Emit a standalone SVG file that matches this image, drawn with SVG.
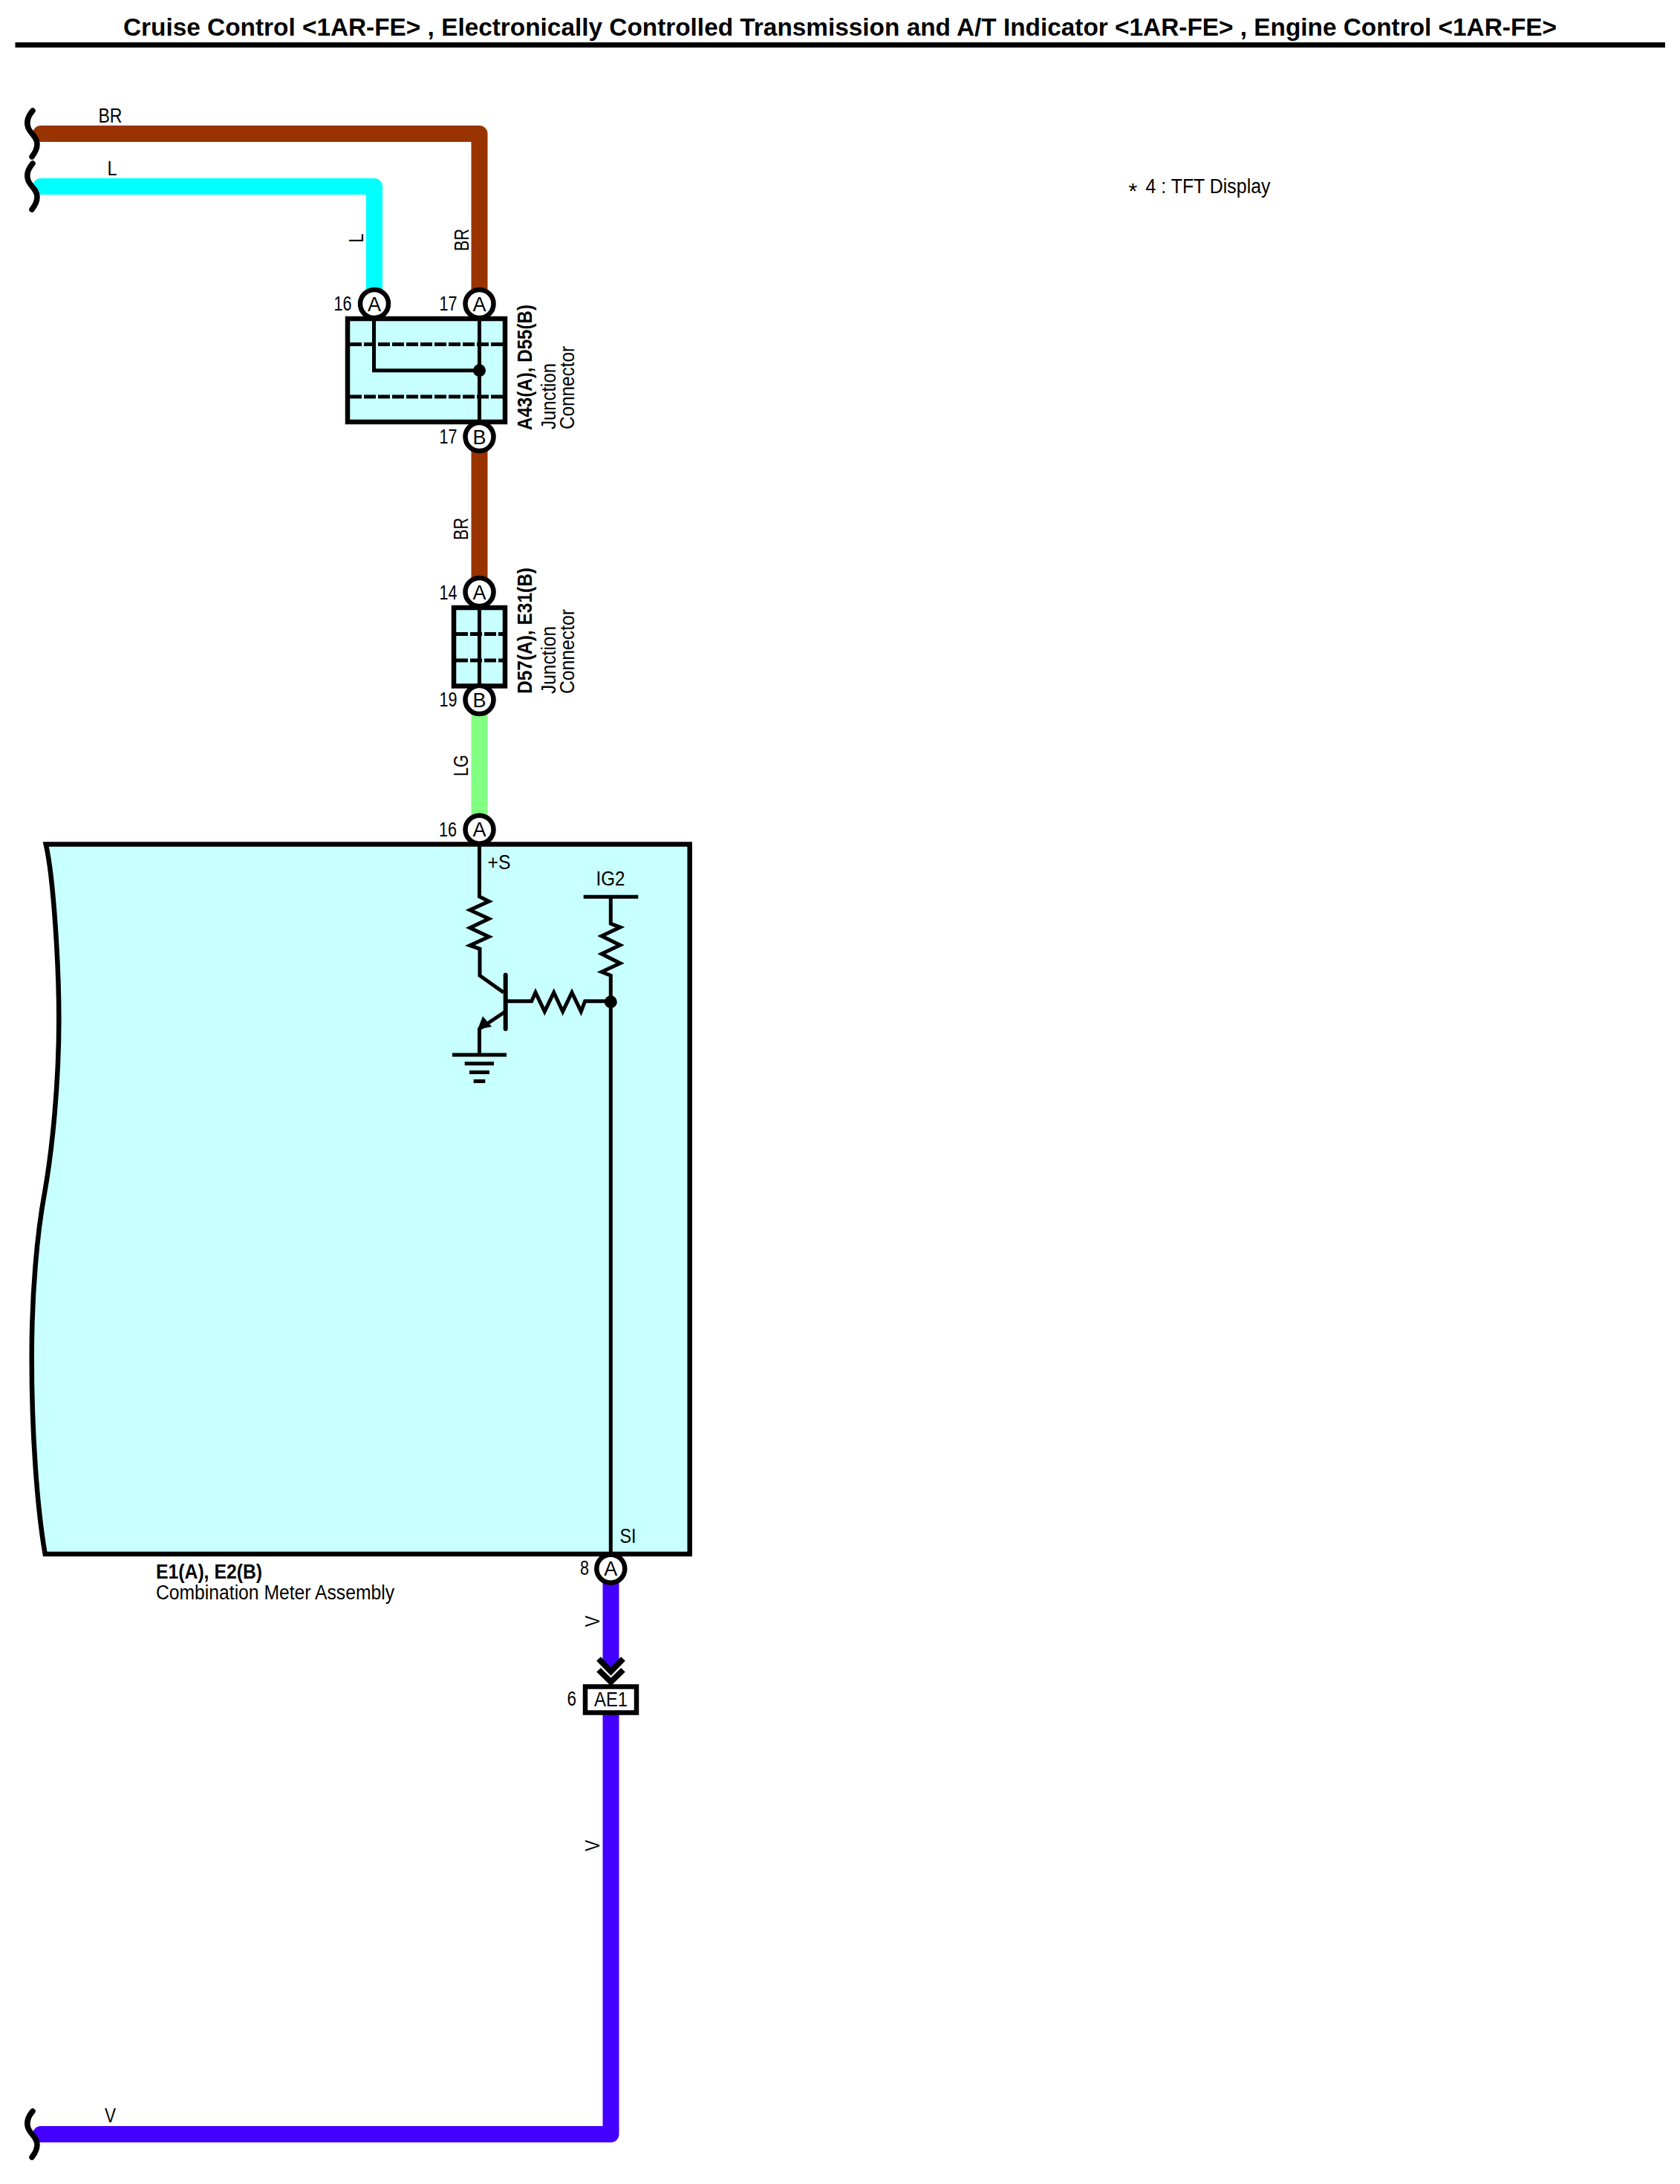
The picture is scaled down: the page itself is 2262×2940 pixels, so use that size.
<svg xmlns="http://www.w3.org/2000/svg" width="2262" height="2940" viewBox="0 0 2262 2940">
<style>
text{font-family:"Liberation Sans",Arial,sans-serif;font-size:27px;fill:#000}
.b{font-weight:bold}
.m{text-anchor:middle}
.e{text-anchor:end}
.w{fill:none;stroke-width:22;stroke-linejoin:round;stroke-linecap:round}
.wb{fill:none;stroke-width:22}
.k{fill:none;stroke:#000;stroke-width:5}
.sq{fill:none;stroke:#000;stroke-width:7.5;stroke-linecap:round}
.box{fill:#c8ffff;stroke:#000;stroke-width:6.5;stroke-linejoin:miter}
.pin{fill:#fff;stroke:#000;stroke-width:6.5}
.dash{fill:none;stroke:#000;stroke-width:5;stroke-dasharray:16 3}
</style>
<defs>
<path id="brk" class="sq" d="M44 -31C38 -24 35 -16 38 -8C41 0 50 4 50 14C50 22 46 27 43 31"/>
</defs>
<g id="title">
<text class="b m" x="1131" y="48" style="font-size:33px" textLength="1930" lengthAdjust="spacingAndGlyphs">Cruise Control &lt;1AR-FE&gt; , Electronically Controlled Transmission and A/T Indicator &lt;1AR-FE&gt; , Engine Control &lt;1AR-FE&gt;</text>
<rect x="20.5" y="57" width="2221.5" height="7"/>
</g>
<g id="note">
<text x="1520" y="259.5"><tspan x="1519.5" y="267" style="font-size:30px">*</tspan><tspan x="1542.5" y="259.5" textLength="168" lengthAdjust="spacingAndGlyphs">4 : TFT Display</tspan></text>
</g>
<g id="connectors">
<path class="w" stroke="#993300" d="M55 180H645.5V400"/>
<path class="w" stroke="#00ffff" d="M55 251H504V400"/>
<path class="wb" stroke="#993300" d="M645.5 600V790"/>
<path class="wb" stroke="#80ff80" d="M645.5 950V1110"/>
<path class="wb" stroke="#4400ff" d="M822.5 2125V2244"/>
<path class="w" stroke="#4400ff" d="M822.5 2300V2873H55"/>
<use href="#brk" y="180"/>
<use href="#brk" y="251"/>
<use href="#brk" y="2873"/>
<text x="132.5" y="164.5" textLength="32" lengthAdjust="spacingAndGlyphs">BR</text>
<text x="144.5" y="235.5" textLength="13" lengthAdjust="spacingAndGlyphs">L</text>
<text transform="translate(488.5 326.5) rotate(-90)" textLength="12" lengthAdjust="spacingAndGlyphs">L</text>
<text transform="translate(631 338) rotate(-90)" textLength="30" lengthAdjust="spacingAndGlyphs">BR</text>
<text transform="translate(630 727) rotate(-90)" textLength="30" lengthAdjust="spacingAndGlyphs">BR</text>
<text transform="translate(630 1045) rotate(-90)" textLength="29" lengthAdjust="spacingAndGlyphs">LG</text>
<text transform="translate(807 2190) rotate(-90)" textLength="15" lengthAdjust="spacingAndGlyphs">V</text>
<text transform="translate(807 2492) rotate(-90)" textLength="15" lengthAdjust="spacingAndGlyphs">V</text>
<text x="141" y="2857" textLength="15" lengthAdjust="spacingAndGlyphs">V</text>
</g>
<g id="junction-A43-D55">
<rect class="box" x="468" y="429" width="212" height="139"/>
<path class="dash" d="M471 463.5H677M471 534H677"/>
<path class="k" d="M503.5 409V498.7H645.5M645.5 409V588"/>
<circle cx="645.5" cy="498.7" r="8.5"/>
<circle class="pin" cx="504" cy="409" r="19"/>
<circle class="pin" cx="645.5" cy="409" r="19"/>
<circle class="pin" cx="645.5" cy="588" r="19"/>
<text class="m" x="504" y="418.5" textLength="18" lengthAdjust="spacingAndGlyphs">A</text>
<text class="m" x="645.5" y="418.5" textLength="18" lengthAdjust="spacingAndGlyphs">A</text>
<text class="m" x="645.5" y="597.5" textLength="18" lengthAdjust="spacingAndGlyphs">B</text>
<text x="449.5" y="417.5" textLength="24" lengthAdjust="spacingAndGlyphs">16</text>
<text x="591.5" y="417.5" textLength="24" lengthAdjust="spacingAndGlyphs">17</text>
<text x="591.5" y="596.5" textLength="24" lengthAdjust="spacingAndGlyphs">17</text>
<text class="b" transform="translate(716 579) rotate(-90)" textLength="169" lengthAdjust="spacingAndGlyphs">A43(A), D55(B)</text>
<text transform="translate(748 578) rotate(-90)" textLength="89" lengthAdjust="spacingAndGlyphs">Junction</text>
<text transform="translate(773 578) rotate(-90)" textLength="112" lengthAdjust="spacingAndGlyphs">Connector</text>
</g>
<g id="junction-D57-E31">
<rect class="box" x="611" y="818" width="69" height="105.5"/>
<path class="dash" d="M614 853.5H677M614 889H677"/>
<path class="k" d="M645.5 797V942"/>
<circle class="pin" cx="645.5" cy="797" r="19"/>
<circle class="pin" cx="645.5" cy="942" r="19"/>
<text class="m" x="645.5" y="806.5" textLength="18" lengthAdjust="spacingAndGlyphs">A</text>
<text class="m" x="645.5" y="951.5" textLength="18" lengthAdjust="spacingAndGlyphs">B</text>
<text x="591.5" y="807" textLength="24" lengthAdjust="spacingAndGlyphs">14</text>
<text x="591.5" y="950.5" textLength="24" lengthAdjust="spacingAndGlyphs">19</text>
<text class="b" transform="translate(716 934) rotate(-90)" textLength="170" lengthAdjust="spacingAndGlyphs">D57(A), E31(B)</text>
<text transform="translate(748 934) rotate(-90)" textLength="91" lengthAdjust="spacingAndGlyphs">Junction</text>
<text transform="translate(773 934) rotate(-90)" textLength="114" lengthAdjust="spacingAndGlyphs">Connector</text>
</g>
<g id="combination-meter">
<path class="box" d="M61.7 1136.5H928.7V2092H60.7C50 2030 42.7 1930 42.7 1827C42.7 1740 50 1660 60 1606C70 1550 79.3 1460 79.3 1372C79.3 1300 72 1180 61.7 1136.5Z"/>
<path class="k" d="M645.5 1117V1207L658.3 1213.3L632.7 1225L658.3 1236.7L632.7 1249L658.3 1261L632.7 1272.7L646 1277.3V1313.3L678 1336"/>
<path d="M680.7 1312.5V1385" fill="none" stroke="#000" stroke-width="6" stroke-linecap="round"/>
<path class="k" d="M680 1362L645.5 1385V1420"/>
<path d="M643 1386L650 1368L662 1382Z"/>
<path class="k" d="M609 1420H682M625.7 1431.7H665M632 1443.5H659M637.7 1455.5H653.3"/>
<path class="k" d="M683 1347.7H715.7L721 1336L733.3 1361.7L745.7 1336L757.7 1361.7L770 1336L782.3 1361.7L787.7 1347.7H822.3"/>
<path class="k" d="M785.7 1207.3H859.3M822.3 1207.3V1243.3L835 1248.3L810 1260L835 1272.3L810 1284L835 1296.7L810 1308.3L822.3 1313.3V2112"/>
<circle cx="822.3" cy="1348.7" r="8.5"/>
<circle class="pin" cx="645.5" cy="1116.7" r="19"/>
<circle class="pin" cx="822.3" cy="2111.7" r="19"/>
<text class="m" x="645.5" y="1126" textLength="18" lengthAdjust="spacingAndGlyphs">A</text>
<text class="m" x="822.3" y="2121" textLength="18" lengthAdjust="spacingAndGlyphs">A</text>
<text x="591" y="1125.5" textLength="24" lengthAdjust="spacingAndGlyphs">16</text>
<text x="781" y="2120" textLength="12" lengthAdjust="spacingAndGlyphs">8</text>
<text x="656.5" y="1170" textLength="31" lengthAdjust="spacingAndGlyphs">+S</text>
<text x="802.5" y="1191.7" textLength="39" lengthAdjust="spacingAndGlyphs">IG2</text>
<text x="834.5" y="2076.7" textLength="22" lengthAdjust="spacingAndGlyphs">SI</text>
<text class="b" x="210" y="2125" textLength="143" lengthAdjust="spacingAndGlyphs">E1(A), E2(B)</text>
<text x="210" y="2153.3" textLength="321" lengthAdjust="spacingAndGlyphs">Combination Meter Assembly</text>
</g>
<g id="AE1">
<path d="M806 2233L822.5 2250L839 2233M806 2248L822.5 2264L839 2248" fill="none" stroke="#000" stroke-width="8"/>
<rect x="788" y="2270.5" width="69" height="35" fill="#fff" stroke="#000" stroke-width="6.5"/>
<text class="m" x="822.5" y="2296.7" textLength="45" lengthAdjust="spacingAndGlyphs">AE1</text>
<text x="763.5" y="2296" textLength="12.5" lengthAdjust="spacingAndGlyphs">6</text>
</g>
</svg>
